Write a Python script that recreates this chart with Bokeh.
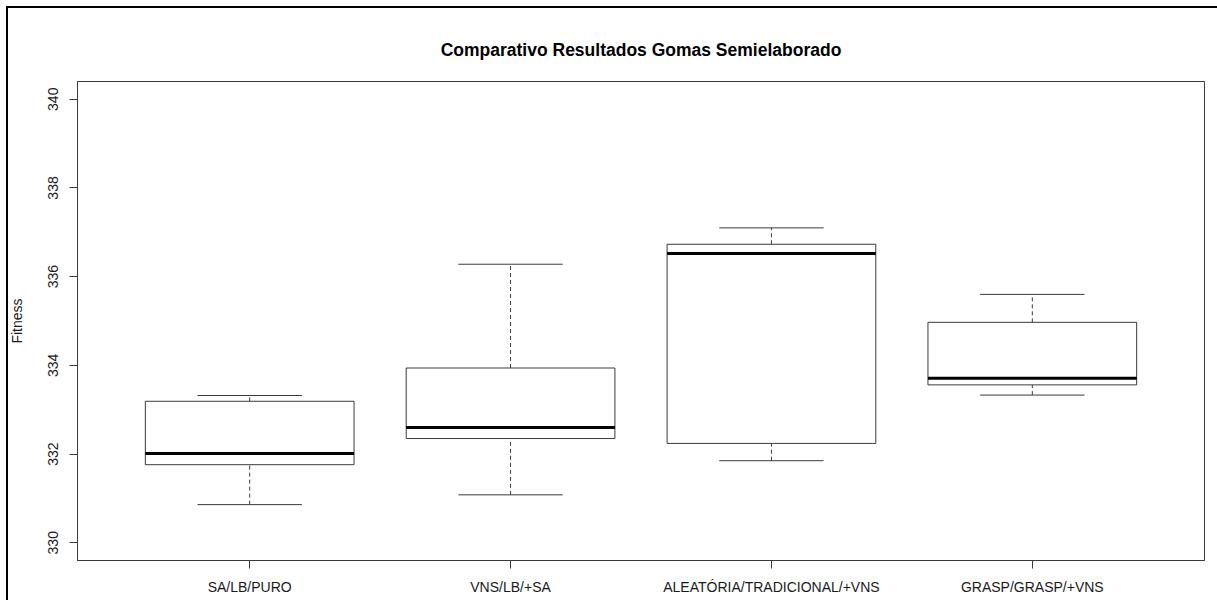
from bokeh.plotting import figure
from bokeh.models import Range1d, FixedTicker
from bokeh.embed import file_html
from bokeh.resources import INLINE

# Fitness summary per method (box statistics)
methods = ["SA/LB/PURO", "VNS/LB/+SA", "ALEATÓRIA/TRADICIONAL/+VNS", "GRASP/GRASP/+VNS"]
lower_whisker = [330.86, 331.08, 331.85, 333.33]
q1 = [331.76, 332.35, 332.24, 333.56]
median = [332.01, 332.60, 336.52, 333.71]
q3 = [333.19, 333.94, 336.73, 334.97]
upper_whisker = [333.32, 336.28, 337.10, 335.60]
y_ticks = [330, 332, 334, 336, 338, 340]

pos = list(range(1, len(methods) + 1))
half_box = 0.4
half_cap = 0.2

FONT = "Liberation Sans"
LINE = "#3a3a3a"

p = figure(width=1217, height=600, output_backend="svg", toolbar_location=None,
           x_range=Range1d(0.34, 4.66), y_range=Range1d(329.6, 340.4),
           min_border_left=77, min_border_right=13, min_border_top=81, min_border_bottom=40,
           title="Comparativo Resultados Gomas Semielaborado")

p.border_fill_color = None
p.background_fill_color = "white"
p.outline_line_color = LINE
p.outline_line_width = 1
p.xgrid.visible = False
p.ygrid.visible = False

# page frame around the figure (left and top edges)
p.styles = {
    "background-color": "white",
    "background-image": "linear-gradient(#000,#000), linear-gradient(#000,#000)",
    "background-size": "2px 100%, 100% 2px",
    "background-position": "6px 6px, 6px 6px",
    "background-repeat": "no-repeat",
}

p.title.align = "center"
p.title.text_font = FONT
p.title.text_font_size = "17.5px"
p.title.text_font_style = "bold"
p.title.text_color = "#000000"
p.title.standoff = 43

# axes
p.xaxis.ticker = FixedTicker(ticks=pos)
p.xaxis.major_label_overrides = {i: m for i, m in zip(pos, methods)}
p.yaxis.ticker = FixedTicker(ticks=y_ticks)
p.yaxis.major_label_orientation = "parallel"
p.yaxis.axis_label = "Fitness"

for ax in (p.xaxis, p.yaxis):
    ax.axis_line_color = LINE
    ax.major_tick_line_color = LINE
    ax.major_tick_out = 8
    ax.major_tick_in = 0
    ax.minor_tick_line_color = None
    ax.major_label_text_font = FONT
    ax.major_label_text_font_size = "14px"
    ax.major_label_text_color = "#1a1a1a"
    ax.axis_label_text_font = FONT
    ax.axis_label_text_font_size = "14px"
    ax.axis_label_text_font_style = "normal"
    ax.axis_label_text_color = "#1a1a1a"

p.xaxis.major_label_standoff = 10
p.yaxis.major_label_standoff = 11
p.yaxis.axis_label_standoff = 21

# whiskers (dashed) and caps
p.segment(x0=pos, y0=q3, x1=pos, y1=upper_whisker, line_color=LINE, line_width=1, line_dash="4 3")
p.segment(x0=pos, y0=lower_whisker, x1=pos, y1=q1, line_color=LINE, line_width=1, line_dash="4 3")
p.segment(x0=[x - half_cap for x in pos], y0=upper_whisker, x1=[x + half_cap for x in pos],
          y1=upper_whisker, line_color=LINE, line_width=1)
p.segment(x0=[x - half_cap for x in pos], y0=lower_whisker, x1=[x + half_cap for x in pos],
          y1=lower_whisker, line_color=LINE, line_width=1)

# boxes
p.vbar(x=pos, width=2 * half_box, bottom=q1, top=q3, fill_color="white",
       line_color=LINE, line_width=1)

# medians
p.segment(x0=[x - half_box for x in pos], y0=median, x1=[x + half_box for x in pos],
          y1=median, line_color="#000000", line_width=3)

open("out.html", "w").write(file_html(p, INLINE))
